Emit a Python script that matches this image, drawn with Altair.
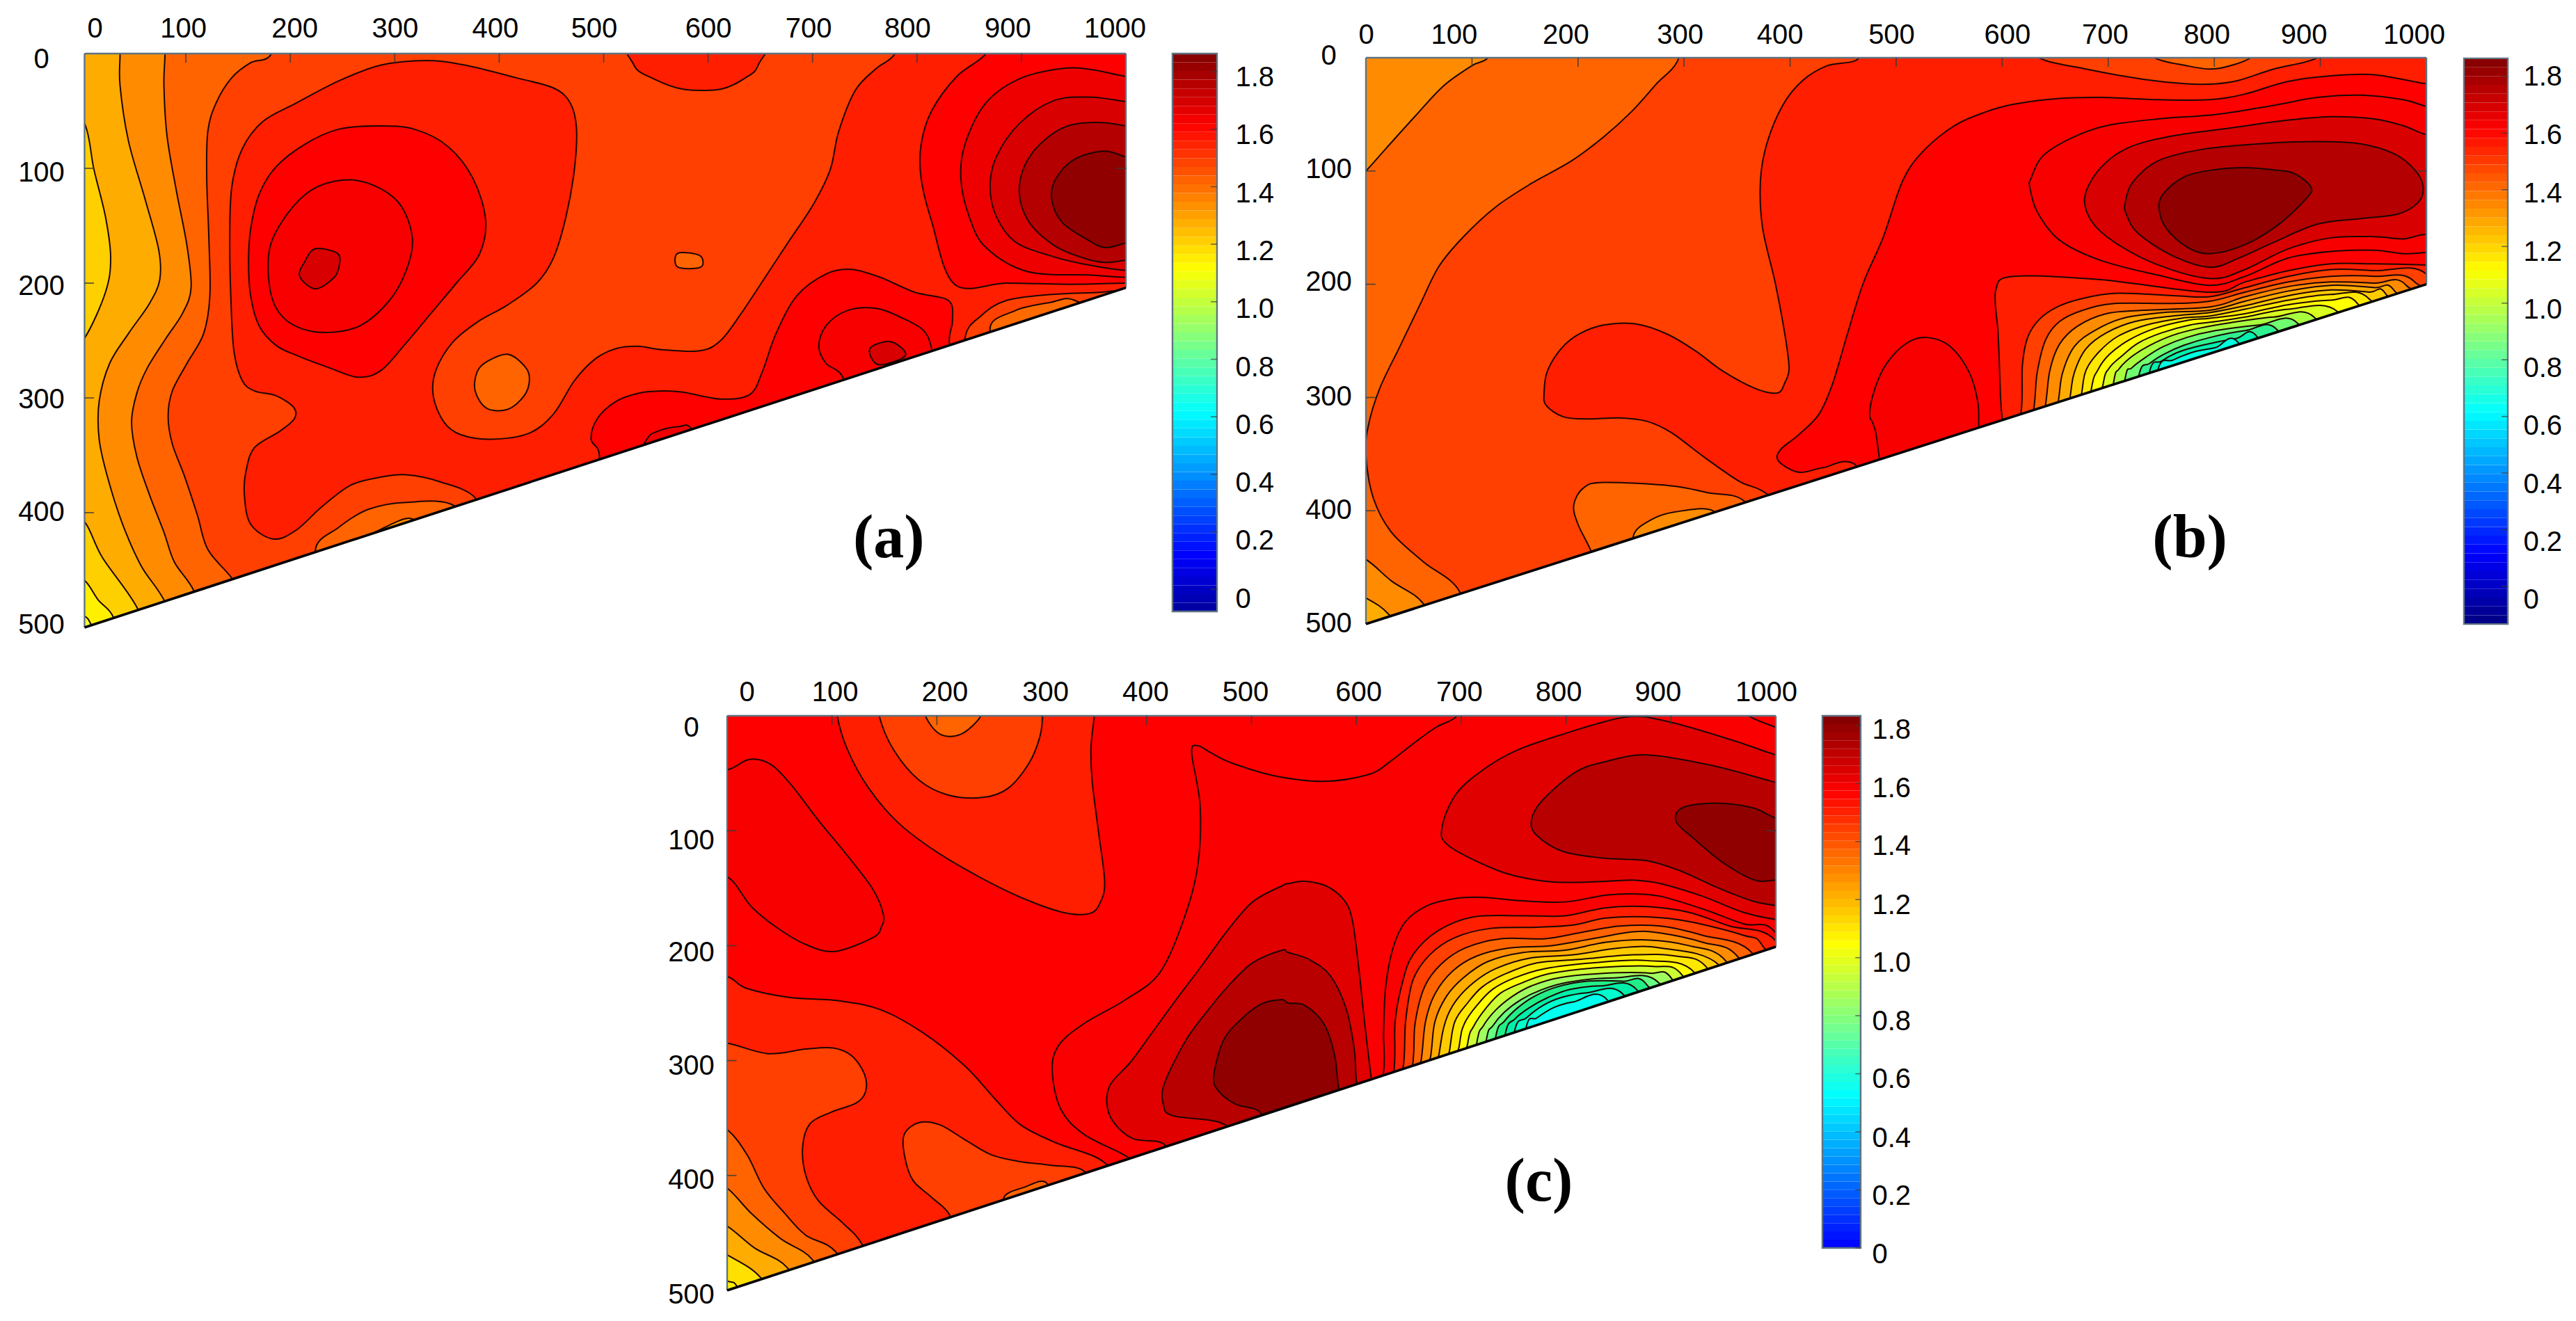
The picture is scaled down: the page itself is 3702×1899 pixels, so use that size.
import altair as alt
import pandas as pd

X_TICKS = [0,100,200,300,400,500,600,700,800,900,1000]
Y_TICKS = [0,100,200,300,400,500]
BAR_TICKS = [0,0.2,0.4,0.6,0.8,1.0,1.2,1.4,1.6,1.8]
JET = ['#000080','#0000ff','#0080ff','#00ffff','#80ff80','#ffff00','#ff8000','#ff0000','#800000']

def under(pts):
    """close a contour band that ends on the sloping edge, below the masked edge"""
    a, b = pts[0], pts[-1]
    return pts + [(b[0]+30, b[1]+60), (a[0]-10, a[1]+70)]

BASE = [(-100,-100),(1200,-100),(1200,700),(-100,700)]

PANEL_A = [
 ('#ff4000', BASE),
 ('#ff6400', [(182,0),(162,8),(144,21),(129,43),(121,68),(120,109),(122,160),(123,211),(117,244),(101,270),(87,294),(83,316),(87,340),(99,369),(111,402),(121,432),(144,457),(170,490),(100,560),(-60,560),(-60,-40),(190,-40)]),
 ('#ff8c00', [(80,0),(79,28),(82,72),(91,120),(101,167),(105,204),(97,226),(81,248),(63,274),(53,296),(48,321),(53,351),(65,384),(79,417),(89,443),(107,467),(120,500),(50,560),(-60,560),(-60,-40),(80,-40)]),
 ('#ffac00', [(37,0),(37,28),(45,76),(61,127),(74,171),(75,197),(65,218),(45,244),(27,270),(17,303),(17,336),(25,369),(39,409),(57,446),(79,476),(100,520),(-60,560),(-60,-40),(37,-40)]),
 ('#ffd000', [(-20,40),(3,61),(12,101),(23,142),(28,178),(23,208),(3,248),(-20,270)]),
 ('#ffd000', [(-20,395),(3,408),(20,439),(54,484),(70,530),(-20,540)]),
 ('#fff000', [(-20,445),(3,459),(16,476),(30,490),(40,520),(-20,530)]),
 ('#ffff30', [(-10,485),(3,490),(9,497),(20,520),(-10,525)]),
 ('#ff6400', [(224,433),(246,413),(275,397),(311,391),(357,394),(380,430),(240,480)]),
 ('#ff8c00', [(270,425),(290,413),(315,405),(325,420),(280,440)]),
 ('#ff1e00', [(331,6),(367,10),(416,21),(452,30),(468,43),(474,65),(472,101),(464,142),(452,178),(436,200),(408,219),(379,234),(355,252),(339,277),(337,299),(347,321),(363,332),(392,336),(428,331),(452,314),(472,285),(492,266),(512,257),(533,255),(556,258),(592,259),(612,250),(632,226),(656,193),(677,164),(701,131),(717,101),(725,68),(741,32),(761,13),(779,0),(790,-30),(1100,-30),(1100,300),(800,320),(500,400),(390,420),(377,387),(343,373),(311,367),(287,369),(258,376),(230,395),(206,415),(184,423),(162,410),(156,384),(158,362),(166,343),(190,329),(204,318),(203,308),(186,298),(166,294),(154,285),(146,259),(143,211),(142,160),(144,116),(154,83),(174,59),(206,43),(246,24),(287,10)]),
 ('#ff0000', [(285,63),(319,66),(351,81),(375,109),(387,145),(381,175),(359,200),(335,226),(311,252),(287,276),(265,282),(238,274),(206,263),(186,254),(170,237),(162,211),(160,182),(162,153),(170,123),(186,99),(214,79),(246,66)]),
 ('#f80000', [(258,110),(287,118),(307,134),(317,162),(311,189),(295,215),(267,237),(234,243),(204,237),(186,221),(179,193),(182,164),(202,134),(226,116)]),
 ('#d80000', [(224,170),(245,174),(247,184),(242,195),(224,205),(209,194),(214,181)]),
 ('#ff6400', [(408,262),(424,272),(429,283),(424,298),(408,310),(388,309),(377,294),(379,277),(389,268)]),
 ('#ff0000', [(496,351),(488,336),(494,318),(512,303),(533,296),(556,294),(576,295),(612,301),(640,297),(652,277),(665,244),(685,211),(713,192),(737,188),(765,195),(798,208),(830,215),(834,233),(831,252),(840,290),(600,400),(490,400)]),
 ('#f80000', [(729,282),(713,270),(706,255),(713,237),(733,224),(761,222),(785,230),(806,241),(814,257),(820,290),(740,320)]),
 ('#d80000', [(755,257),(775,251),(789,263),(763,271)]),
 ('#f00000', [(540,338),(552,329),(572,325),(584,327),(600,360),(520,380)]),
 ('#ff1e00', [(527,-20),(529,10),(548,22),(576,31),(612,31),(636,21),(648,10),(652,-20)]),
 ('#ff6400', [(571,174),(592,176),(593,186),(571,186)]),
 ('#ff0000', [(866,-20),(866,0),(838,20),(814,50),(804,79),(804,109),(814,146),(836,201),(886,200),(947,201),(1000,200),(1050,200),(1050,-20)]),
 ('#ee0000', [(1040,25),(1000,20),(967,14),(939,13),(898,22),(866,43),(846,79),(842,109),(850,142),(866,169),(906,190),(967,193),(1000,195),(1040,195)]),
 ('#d80000', [(1040,48),(1000,42),(967,38),(931,41),(898,61),(876,90),(870,116),(876,142),(894,164),(927,176),(963,184),(1000,189),(1040,190)]),
 ('#b40000', [(1040,70),(1000,63),(971,60),(939,65),(910,87),(898,116),(906,145),(931,167),(959,178),(980,182),(1000,180),(1040,175)]),
 ('#900000', [(1040,100),(1000,90),(979,85),(951,92),(933,109),(929,127),(939,147),(963,162),(980,169),(1000,165),(1040,155)]),
 ('#ff4000', [(846,248),(862,228),(886,215),(927,210),(975,208),(1000,206),(1050,205),(1000,270),(850,300)]),
 ('#ff6a00', [(870,241),(894,224),(927,217),(951,215),(980,240),(900,290)]),
]

PANEL_B = [
 ('#ff4000', BASE),
 ('#ff6400', [(295,0),(273,24),(250,48),(224,70),(194,91),(156,111),(122,132),(92,158),(69,184),(51,218),(32,255),(13,292),(2,326),(0,352),(7,389),(24,419),(54,445),(88,471),(100,520),(-60,540),(-60,-40),(295,-40)]),
 ('#ff8c00', [(125,-20),(115,0),(100,7),(73,25),(47,51),(20,79),(0,100),(-30,130),(-30,-20)]),
 ('#ff8c00', [(-30,430),(0,443),(24,462),(54,482),(70,520),(-30,530)]),
 ('#ffac00', [(-30,465),(0,477),(22,492),(40,520),(-30,525)]),
 ('#ff6400', [(356,391),(322,384),(288,378),(224,375),(205,380),(196,395),(200,412),(212,435),(230,475),(375,425)]),
 ('#ff8c00', [(252,423),(269,408),(292,401),(327,400),(340,425),(260,455)]),
 ('#ff1e00', [(465,0),(435,7),(412,20),(393,42),(378,76),(372,109),(374,150),(386,199),(395,244),(399,274),(395,287),(388,296),(367,292),(337,277),(311,259),(284,244),(254,235),(224,236),(201,244),(184,257),(171,277),(168,296),(170,307),(186,317),(209,319),(239,318),(265,321),(288,331),(318,352),(352,374),(378,385),(420,420),(1100,300),(1100,-30),(465,-30)]),
 ('#ff4000', [(620,-20),(635,0),(679,10),(733,19),(774,23),(802,23),(823,20),(856,10),(897,0),(915,-20)]),
 ('#ff6400', [(735,-15),(744,0),(774,7),(796,10),(815,7),(834,0),(845,-15)]),
 ('#ff0000', [(1030,25),(1000,23),(951,15),(910,16),(869,21),(829,32),(796,37),(747,37),(693,35),(652,36),(611,41),(584,48),(555,60),(525,83),(506,109),(488,158),(469,199),(454,244),(440,288),(427,315),(408,333),(391,346),(389,356),(408,366),(431,362),(461,359),(500,400),(1030,300)]),
 ('#f80000', [(529,247),(551,255),(569,278),(577,304),(578,327),(580,370),(500,390),(480,328),(475,315),(480,292),(491,270),(510,252)]),
 ('#f80000', [(626,114),(627,107),(638,87),(665,71),(698,60),(747,54),(802,50),(856,42),(897,35),(938,33),(978,37),(1000,43),(1030,50),(1030,170),(1000,172),(978,173),(951,170),(910,171),(869,177),(829,193),(796,201),(747,192),(693,179),(654,161),(633,136)]),
 ('#d80000', [(678,122),(693,97),(720,79),(761,69),(815,62),(870,55),(910,52),(951,54),(978,60),(1000,68),(1030,75),(1030,160),(1000,156),(978,160),(951,158),(910,159),(869,169),(829,187),(796,195),(747,183),(706,163),(684,144)]),
 ('#b40000', [(716,128),(723,110),(747,91),(788,81),(842,76),(897,74),(938,76),(970,85),(989,99),(997,114),(992,128),(973,138),(938,142),(897,147),(856,163),(823,177),(796,185),(761,175),(728,155),(717,138)]),
 ('#900000', [(748,134),(752,120),(772,105),(799,99),(829,97),(856,99),(875,102),(891,114),(887,124),(861,147),(829,165),(796,173),(774,167),(755,151)]),
 ('#ff1e00', [(597,262),(596,241),(594,205),(611,193),(693,196),(796,207),(829,198),(870,188),(910,182),(951,182),(1000,183),(1030,185),(1030,300),(610,350),(600,318)]),
 ('#ff4000', under([(618,312),(619,272),(624,247),(635,231),(652,220),(674,213),(706,208),(761,210),(796,211),(829,203),(870,193),(910,187),(951,188),(1000,191)])),
 ('#ff6400', under([(630,309),(633,278),(641,249),(654,233),(676,223),(706,217),(761,217),(796,215),(829,207),(870,198),(910,193),(951,193),(989,198)])),
 ('#ff8c00', under([(641,306),(645,276),(654,253),(671,237),(698,226),(733,223),(796,220),(829,211),(870,202),(910,198),(951,199),(981,201)])),
 ('#ffac00', under([(653,303),(657,278),(668,255),(687,241),(714,230),(752,225),(796,223),(829,215),(870,206),(910,201),(951,203),(970,206)])),
 ('#ffcc00', under([(664,300),(668,278),(679,257),(698,243),(725,233),(761,228),(796,225),(829,219),(870,210),(910,205),(946,207),(962,209)])),
 ('#ffe800', under([(675,296),(679,276),(691,260),(709,246),(736,236),(769,230),(796,228),(829,222),(870,214),(910,209),(946,213)])),
 ('#ffff00', under([(684,293),(690,276),(701,262),(720,249),(744,239),(774,232),(796,230),(829,226),(870,218),(910,214),(935,217)])),
 ('#d8ff20', under([(695,289),(701,274),(712,264),(728,252),(750,243),(777,236),(801,233),(829,229),(870,222),(916,224)])),
 ('#a8ff40', under([(705,287),(710,275),(722,264),(739,254),(761,245),(785,239),(815,234),(856,229),(894,229)])),
 ('#70ff70', under([(716,283),(722,274),(736,264),(752,255),(774,247),(801,241),(842,236),(878,234)])),
 ('#30f090', under([(729,280),(739,270),(752,262),(771,254),(796,247),(829,241),(859,240)])),
 ('#00f0b0', under([(739,277),(750,268),(766,260),(788,254),(820,248),(840,246)])),
 ('#00ffe0', under([(747,275),(761,267),(780,260),(801,256),(822,251)])),
]

PANEL_C = [
 ('#ff0000', BASE),
 ('#ff1e00', [(105,-20),(105,0),(115,30),(135,63),(163,93),(199,118),(240,140),(280,158),(320,171),(346,172),(356,162),(360,144),(354,100),(348,56),(347,27),(350,0),(350,-20)]),
 ('#ff4000', [(145,-20),(145,0),(159,30),(183,56),(211,69),(244,71),(268,63),(288,41),(298,19),(301,0),(301,-20)]),
 ('#ff6400', [(189,-15),(189,0),(203,16),(223,16),(242,0),(242,-15)]),
 ('#f80000', [(-30,47),(0,47),(21,38),(41,42),(61,60),(87,91),(115,122),(139,151),(149,173),(147,184),(139,193),(103,205),(75,199),(47,184),(23,166),(0,140),(-30,140)]),
 ('#ff1e00', [(0,227),(18,237),(59,245),(107,248),(147,256),(187,276),(227,305),(256,334),(280,356),(312,371),(360,389),(370,420),(200,520),(-30,520),(-30,227)]),
 ('#ff4000', [(0,285),(39,294),(75,290),(101,289),(119,296),(131,312),(132,327),(123,337),(99,345),(79,355),(72,375),(75,400),(87,422),(111,442),(128,459),(140,490),(-30,520),(-30,285)]),
 ('#ff6400', [(0,360),(19,382),(35,411),(55,433),(75,452),(104,467),(125,510),(-30,530),(-30,345)]),
 ('#ff8c00', [(0,411),(23,433),(51,455),(81,473),(100,510),(-30,530),(-30,395)]),
 ('#ffac00', [(0,444),(26,463),(57,480),(75,515),(-30,530),(-30,430)]),
 ('#ffe000', [(0,469),(31,488),(50,520),(-30,530),(-30,455)]),
 ('#fff000', [(0,492),(9,496),(20,520),(-30,530),(-30,485)]),
 ('#ff4000', [(212,434),(195,419),(177,404),(169,382),(169,364),(183,354),(203,356),(227,369),(252,382),(280,388),(308,391),(340,396),(350,420),(220,460)]),
 ('#ff6400', [(264,419),(284,410),(304,406),(310,430),(270,440)]),
 ('#fb0000', [(443,32),(449,26),(461,32),(481,41),(521,52),(569,57),(612,51),(632,40),(656,23),(676,10),(696,0),(700,-20),(1050,-20),(1050,300),(620,400),(400,400),(382,384),(340,364),(318,342),(310,309),(316,287),(340,268),(380,247),(413,223),(437,173),(449,129),(451,78)]),
 ('#ff0000', [(970,-10),(974,0),(1000,10),(1030,20),(1030,-10)]),
 ('#e00000', [(535,146),(551,144),(571,148),(588,160),(596,177),(602,217),(608,268),(614,314),(620,360),(430,400),(417,373),(387,368),(368,353),(362,336),(366,320),(385,301),(405,276),(429,246),(453,217),(477,187),(501,162),(529,148)]),
 ('#b80000', [(535,206),(555,212),(575,226),(590,254),(598,290),(600,318),(605,365),(480,385),(475,356),(425,348),(416,338),(417,320),(437,283),(457,258),(477,236),(501,215),(529,204)]),
 ('#900000', [(535,250),(551,252),(569,268),(579,294),(583,323),(590,365),(510,375),(509,346),(485,338),(469,327),(464,314),(473,283),(489,265),(509,251),(529,247)]),
 ('#e00000', [(682,96),(696,67),(724,45),(753,30),(797,16),(857,1),(897,5),(958,21),(1000,34),(1030,40),(1030,178),(999,177),(969,171),(930,157),(890,146),(864,143),(838,144),(799,145),(772,143),(736,135),(688,113)]),
 ('#b80000', [(767,91),(777,74),(809,49),(837,40),(877,34),(938,43),(1000,58),(1030,65),(1030,170),(999,165),(977,161),(943,149),(909,135),(877,126),(837,124),(797,118),(772,104)]),
 ('#900000', [(905,92),(911,80),(942,76),(978,80),(1000,89),(1030,95),(1030,143),(1000,143),(980,143),(950,128),(922,107)]),
 ('#fb0000', under([(626,310),(626,276),(628,236),(635,202),(647,179),(668,165),(694,159),(720,158),(759,161),(799,162),(838,156),(864,155),(890,157),(930,168),(969,181),(999,188)])),
 ('#ff1e00', under([(636,308),(637,266),(644,232),(654,208),(678,187),(712,175),(759,174),(799,174),(838,167),(877,166),(917,171),(956,183),(999,195)])),
 ('#ff4000', under([(645,304),(647,266),(654,230),(670,208),(694,193),(728,185),(772,184),(807,182),(838,176),(877,175),(917,179),(969,191),(988,201)])),
 ('#ff6400', under([(654,302),(656,268),(665,236),(681,216),(704,202),(738,194),(780,194),(812,189),(851,183),(890,183),(930,191),(977,206)])),
 ('#ff8c00', under([(662,299),(666,266),(675,242),(692,222),(715,209),(746,202),(786,200),(825,194),(864,188),(890,189),(930,197),(964,210)])),
 ('#ffac00', under([(671,296),(675,266),(686,244),(702,228),(725,214),(759,206),(799,204),(838,197),(877,195),(917,200),(953,214)])),
 ('#ffcc00', under([(679,294),(685,266),(695,248),(712,232),(733,220),(765,211),(807,208),(851,202),(890,202),(946,217)])),
 ('#ffe800', under([(689,291),(694,266),(706,250),(720,236),(741,225),(772,215),(812,212),(864,208),(904,209),(935,220)])),
 ('#ffff00', under([(698,288),(703,268),(715,252),(730,238),(751,228),(780,220),(825,215),(877,213),(922,223)])),
 ('#ccff33', under([(706,286),(712,270),(724,254),(738,241),(759,232),(786,224),(833,219),(883,218),(911,226)])),
 ('#a0ff60', under([(715,284),(721,270),(733,256),(749,244),(767,235),(793,228),(838,224),(880,224),(901,229)])),
 ('#66ff80', under([(724,282),(730,270),(741,258),(757,247),(775,239),(801,232),(846,228),(888,232)])),
 ('#22ee88', under([(733,279),(741,266),(754,254),(770,244),(791,236),(820,231),(854,231),(877,234)])),
 ('#00eeaa', under([(742,277),(751,264),(765,254),(783,245),(804,238),(833,235),(867,238)])),
 ('#00ffcc', under([(751,274),(762,263),(778,252),(796,245),(820,241),(854,242)])),
 ('#00ffee', under([(762,271),(772,263),(788,254),(807,249),(838,246)])),
]

FONT = 'Liberation Sans'
SMALL = 40
FRAME = '#5f7380'


def offsets(values, offs):
    return {"condition": [{"test": f"datum.value === {v}", "value": o} for v, o in zip(values, offs)], "value": 0}


def frame_of(pts):
    return pd.DataFrame([{'i': i, 'x': p[0], 'y': p[1]} for i, p in enumerate(pts)])


def panel(polys, name, top, left_edge, hyp_left, hyp_right, w, h, ydom, xoff, yoff, xpad, ypad, label, lx, ly):
    x = alt.X('x:Q', scale=alt.Scale(domain=[0, 1000], nice=False, zero=False),
              axis=alt.Axis(orient='top', values=X_TICKS, title=None, domain=False, ticks=False, grid=False,
                            labelFont=FONT, labelFontSize=SMALL, labelColor='black', labelPadding=xpad,
                            labelFlush=False, labelOverlap=False, labelBound=False, format='d',
                            labelOffset=offsets(X_TICKS, xoff)))
    y = alt.Y('y:Q', scale=alt.Scale(domain=ydom, reverse=True, nice=False, zero=False),
              axis=alt.Axis(orient='left', values=Y_TICKS, title=None, domain=False, ticks=False, grid=False,
                            labelFont=FONT, labelFontSize=SMALL, labelColor='black', labelPadding=ypad,
                            labelAlign='center', labelBaseline='middle', labelFlush=False, labelOverlap=False,
                            labelBound=False, format='d', labelOffset=offsets(Y_TICKS, yoff)))
    layers = []
    for k, (col, pts) in enumerate(polys):
        layers.append(alt.Chart(frame_of(pts)).mark_line(
            interpolate='cardinal-closed', filled=True, fill=col, stroke='#1c0500', strokeWidth=2,
            clip=True, strokeJoin='round').encode(x=x if k == 0 else 'x:Q', y=y if k == 0 else 'y:Q', order='i:Q'))
    m1 = [(left_edge, hyp_left), (1000, hyp_right), (1100, hyp_right), (1100, 700), (-100, 700), (-100, hyp_left)]
    m2 = [(-100, -100), (left_edge, -100), (left_edge, 700), (-100, 700)]
    m3 = [(-100, -100), (1100, -100), (1100, 0), (-100, 0)]
    for m in [m1, m2, m3]:
        layers.append(alt.Chart(frame_of(m)).mark_line(
            interpolate='linear-closed', filled=True, fill='white', stroke='white', strokeWidth=0.5, clip=True
        ).encode(x='x:Q', y='y:Q', order='i:Q'))
    hyp = alt.Chart(pd.DataFrame({'x': [left_edge, 1000], 'y': [hyp_left, hyp_right]})).mark_line(
        color='black', strokeWidth=3.6).encode(x='x:Q', y='y:Q')
    frame_df = pd.DataFrame([
        {'x': left_edge, 'x2': 1000, 'y': 0, 'y2': 0},
        {'x': left_edge, 'x2': left_edge, 'y': 0, 'y2': hyp_left},
        {'x': 1000, 'x2': 1000, 'y': 0, 'y2': hyp_right},
    ])
    frame = alt.Chart(frame_df).mark_rule(color=FRAME, strokeWidth=2.4).encode(x='x:Q', x2='x2:Q', y='y:Q', y2='y2:Q')
    tick_rows = [{'x': v, 'x2': v, 'y': 0, 'y2': 8} for v in X_TICKS[1:-1]]
    tick_rows += [{'x': left_edge, 'x2': left_edge + 9, 'y': v, 'y2': v} for v in Y_TICKS[1:-1]]
    tick_rows += [{'x': 991, 'x2': 1000, 'y': 100, 'y2': 100}]
    ticks = alt.Chart(pd.DataFrame(tick_rows)).mark_rule(color='#3a3a3a', strokeWidth=1.8, opacity=0.8).encode(
        x='x:Q', x2='x2:Q', y='y:Q', y2='y2:Q')
    tag = alt.Chart(pd.DataFrame({'x': [lx], 'y': [ly], 't': [label]})).mark_text(
        font='Liberation Serif', fontWeight='bold', fontSize=88, color='black', align='center', baseline='middle').encode(
        x='x:Q', y='y:Q', text='t:N')
    return alt.layer(*layers, frame, hyp, ticks, tag).properties(width=w, height=h)


def bar(lo, hi, jet_lo, jet_hi, w, h, ydom, pad, loffs):
    bands = []
    n = 64
    for i in range(n):
        a = lo + (hi - lo) * i / n
        b = lo + (hi - lo) * (i + 1) / n
        bands.append({'a': a, 'b': b, 'm': (a + b) / 2, 'x': 0, 'x2': 1})
    stops = [jet_lo + (jet_hi - jet_lo) * k / 8 for k in range(9)]
    y = alt.Y('a:Q', scale=alt.Scale(domain=ydom, nice=False, zero=False),
              axis=alt.Axis(orient='right', values=BAR_TICKS, title=None, domain=False, ticks=False, grid=False,
                            labelFont=FONT, labelFontSize=SMALL, labelColor='black', labelPadding=pad,
                            labelBaseline='middle', labelFlush=False, labelOverlap=False, labelBound=False,
                            labelExpr="datum.value === 0 ? '0' : format(datum.value, '.1f')",
                            labelOffset=offsets(BAR_TICKS, loffs)))
    x = alt.X('x:Q', scale=alt.Scale(domain=[0, 1], nice=False), axis=None)
    rects = alt.Chart(pd.DataFrame(bands)).mark_rect().encode(
        x=x, x2='x2:Q', y=y, y2='b:Q',
        fill=alt.Fill('m:Q', legend=None, scale=alt.Scale(domain=stops, range=JET, interpolate='rgb')))
    border = alt.Chart(pd.DataFrame({'a': [lo], 'b': [hi], 'x': [0], 'x2': [1]})).mark_rect(
        fill=None, stroke=FRAME, strokeWidth=2.4).encode(x='x:Q', x2='x2:Q', y='a:Q', y2='b:Q')
    tdf = pd.DataFrame({'a': BAR_TICKS, 'x': [0.86] * 10, 'x2': [1] * 10})
    tk = alt.Chart(tdf).mark_rule(color='#3a3a3a', strokeWidth=1.6, opacity=0.7).encode(x='x:Q', x2='x2:Q', y='a:Q')
    return alt.layer(rects, border, tk).properties(width=w, height=h)


def spacer(w):
    return alt.Chart(pd.DataFrame({'a': [0]})).mark_point(opacity=0).encode(
        x=alt.value(0), y=alt.value(0)).properties(width=w, height=1)


a = panel(PANEL_A, 'a', 0, 3, 500, 204, 1501, 825, [0, 500],
          [19, -4, 6, 0, -6, -14, 0, -6, -14, -20, -16], [8, 6, 4, 2, -1, -4], 16, 58, '(a)', 773, 423)
b = panel(PANEL_B, 'b', 0, 0, 500, 200, 1524, 820, [-3.7, 500],
          [0, -26, -18, -6, -15, -7, 7, -5, -11, -24, -18], [-3, -2, -3, -1, -1, -1], 7, 54, '(b)', 777, 425)
c = panel(PANEL_C, 'c', 0, 0, 500, 201, 1507, 826, [0, 500],
          [28, 4, 11, 5, -2, -9, 3, -3, -11, -19, -14], [17, 14, 10, 8, 7, 6], 14, 52, '(c)', 774, 406)

bar_a = bar(-0.077, 1.863, -0.077, 1.863, 64, 802, [-0.077, 1.863], 26, [14, 13, 13, 12, 12, 11, 10, 10, 9, 8])
bar_b = bar(-0.133, 1.864, -0.133, 1.864, 63, 820, [-0.1326, 1.881], 22, [19, 18, 16, 14, 12, 10, 8, 6, 3, 1])
bar_c = bar(0, 1.833, -0.26, 1.833, 55, 765, [0, 1.833], 16, [9, 9, 9, 8, 8, 8, 8, 7, 7, 7])

row1 = alt.hconcat(a, spacer(67), bar_a, spacer(213.5), b, spacer(53.5), bar_b, spacing=0, bounds='flush')
row2 = alt.hconcat(spacer(928), c, spacer(67), bar_c, spacing=0, bounds='flush')

chart = alt.vconcat(row1, row2, spacing=57).properties(
    padding={'left': 17, 'top': 13, 'right': 5, 'bottom': 5}, background='white'
).resolve_scale(x='independent', y='independent', color='independent', fill='independent').configure_view(stroke=None)

chart.save("out.html", embed_options={"renderer": "svg", "actions": False})
